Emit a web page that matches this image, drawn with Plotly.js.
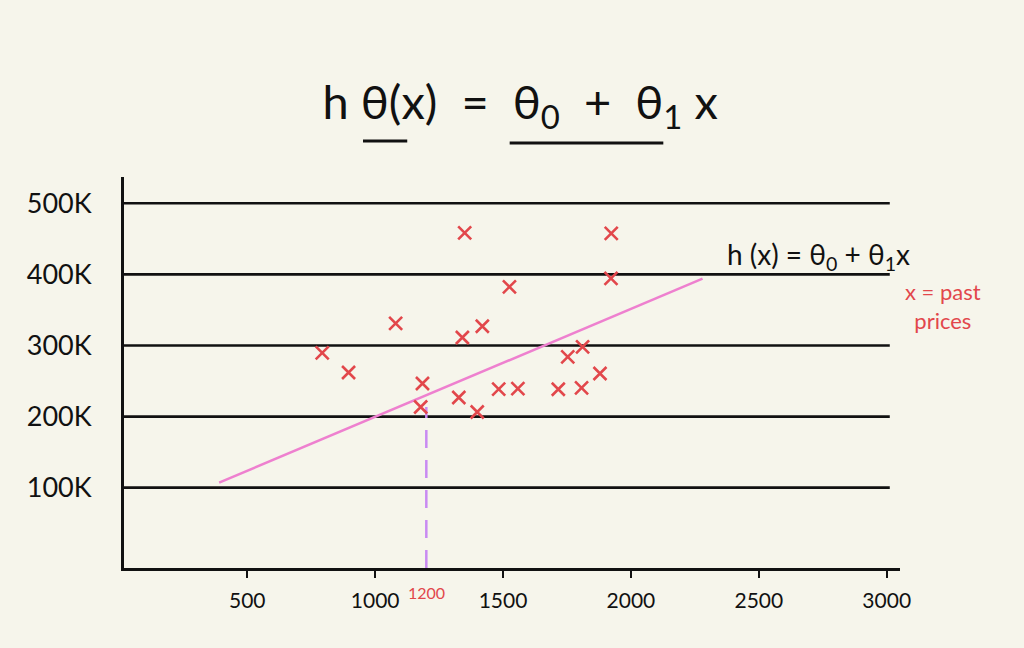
<!DOCTYPE html>
<html>
<head>
<meta charset="utf-8">
<script src="https://cdn.plot.ly/plotly-3.0.1.min.js"></script>
<style>html,body{margin:0;padding:0;background:#f6f5eb;}</style>
</head>
<body>
<div id="chart" style="width:1024px;height:648px;"></div>
<script>
// House size (sq ft) and past prices (USD)
const sizes  = [793, 896, 1080, 1185, 1178, 1350, 1341, 1419, 1327, 1399, 1483, 1525, 1558, 1716, 1753, 1807, 1811, 1879, 1922, 1923];
const prices = [289600, 262000, 331000, 246500, 213500, 458500, 311200, 327100, 226800, 206500, 238700, 382500, 239400, 238500, 283900, 240300, 298000, 260600, 394300, 457600];

// hypothesis line h(x) = θ0 + θ1·x, drawn between two sizes
const lineSizes  = [390, 2280];
const linePrices = [107000, 394000];

// query house size highlighted with dashed guide
const querySize  = 1200;
const queryPrice = 213500;

// axis ticks
const xTickVals = [500, 1000, 1500, 2000, 2500, 3000];
const xTickText = ["500", "1000", "1500", "2000", "2500", "3000"];
const yTickVals = [100000, 200000, 300000, 400000, 500000];
const yTickText = ["100K", "200K", "300K", "400K", "500K"];

const xRange = [18, 3052];
const yRange = [-13000, 537000];
const gridEnd = 3012;

const red = "#e2474b";
const pink = "#ee80cf";
const purple = "#c98af2";
const ink = "#111";
const sp = "\u00a0";

const traces = [
  {
    x: [querySize, querySize], y: [yRange[0], queryPrice],
    mode: "lines", line: {color: purple, width: 2.5, dash: "18px,12px"},
    hoverinfo: "skip", showlegend: false
  },
  {
    x: lineSizes, y: linePrices,
    mode: "lines", line: {color: pink, width: 2.5},
    showlegend: false
  },
  {
    x: sizes, y: prices,
    mode: "markers",
    marker: {symbol: "x-thin", size: 13, line: {color: red, width: 2.6}, color: red},
    showlegend: false
  }
];

const gridShapes = yTickVals.map(v => ({
  type: "line", xref: "x", yref: "y", x0: xRange[0], x1: gridEnd, y0: v, y1: v,
  line: {color: ink, width: 2.6}, layer: "below"
}));

const layout = {
  width: 1024, height: 648,
  paper_bgcolor: "#f6f5eb", plot_bgcolor: "#f6f5eb",
  margin: {l: 124, r: 124, t: 177, b: 80},
  font: {family: "Lato, 'Open Sans', sans-serif", color: ink},
  title: {
    text: "h" + sp + "θ(x)" + sp + sp + "=" + sp + sp + "θ<sub>0</sub>" + sp + sp + "+" + sp + sp + "θ<sub>1</sub>" + sp + "x",
    x: 0.508, xanchor: "center", y: 0.842, yanchor: "middle",
    font: {size: 47, color: ink, family: "Lato, 'Open Sans', sans-serif"}
  },
  xaxis: {
    range: xRange, showgrid: false, zeroline: false,
    showline: true, linecolor: ink, linewidth: 3,
    tickmode: "array", tickvals: xTickVals, ticktext: xTickText,
    ticks: "outside", ticklen: 7, tickwidth: 2, tickcolor: ink,
    ticklabelstandoff: 5,
    tickfont: {size: 21, family: "Lato, 'Open Sans', sans-serif", color: ink}
  },
  yaxis: {
    range: yRange, showgrid: false,
    zeroline: false, showline: true, linecolor: ink, linewidth: 3,
    tickmode: "array", tickvals: yTickVals, ticktext: yTickText,
    ticks: "", ticklabelstandoff: 24,
    tickfont: {size: 27, family: "Lato, 'Open Sans', sans-serif", color: ink}
  },
  shapes: gridShapes.concat([
    {type: "line", xref: "paper", yref: "paper", x0: 0.308, x1: 0.365, y0: 1.092, y1: 1.092, line: {color: ink, width: 3}},
    {type: "line", xref: "paper", yref: "paper", x0: 0.497, x1: 0.695, y0: 1.087, y1: 1.087, line: {color: ink, width: 3}}
  ]),
  annotations: [
    {text: "h" + sp + "(x)" + sp + "=" + sp + "θ<sub>0</sub>" + sp + "+" + sp + "θ<sub>1</sub>x", xref: "paper", yref: "paper", x: 0.775, y: 0.797,
     xanchor: "left", yanchor: "middle", showarrow: false, font: {size: 28, color: ink}},
    {text: "x = past<br>prices", xref: "paper", yref: "paper", x: 1.004, y: 0.67,
     xanchor: "left", yanchor: "middle", showarrow: false, align: "center", font: {size: 22, color: red}},
    {text: String(querySize), xref: "x", yref: "paper", x: querySize, y: -0.062,
     xanchor: "center", yanchor: "middle", showarrow: false, font: {size: 16, color: red}}
  ]
};

Plotly.newPlot("chart", traces, layout, {displayModeBar: false, staticPlot: true});
</script>
</body>
</html>
